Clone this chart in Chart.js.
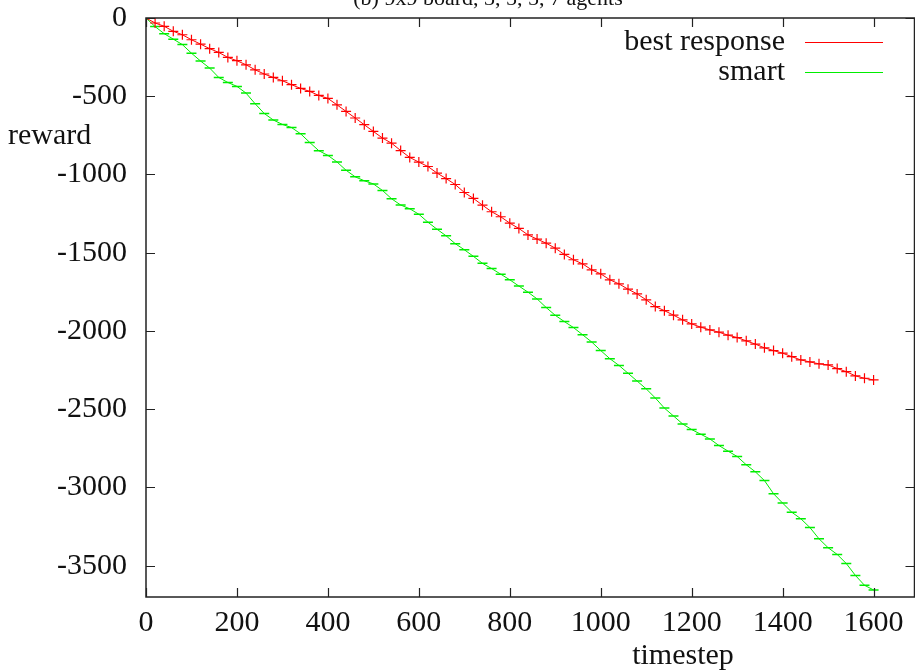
<!DOCTYPE html>
<html>
<head>
<meta charset="utf-8">
<script src="https://cdn.jsdelivr.net/npm/chart.js@4/dist/chart.umd.min.js"></script>
<style>
  html, body { margin: 0; background: #fff; overflow: hidden; }
  #wrap { width: 915px; height: 671px; overflow: hidden; }
</style>
</head>
<body>
<div id="wrap"><canvas id="reward-chart" width="921" height="671"></canvas></div>
<script>
const titleText = '(b) 9x9 board, 3, 5, 5, 7 agents';
const xTicks = [0, 200, 400, 600, 800, 1000, 1200, 1400, 1600];
const yTicks = [0, -500, -1000, -1500, -2000, -2500, -3000, -3500];

const timesteps = [];
for (let t = 0; t <= 1600; t += 20) timesteps.push(t);

const bestResponse = [
    0, -32, -53, -85, -107, -139, -167, -196, -220, -252,
    -273, -299, -331, -358, -380, -401, -426, -450, -469, -495,
    -514, -555, -597, -639, -682, -725, -767, -800, -847, -891,
    -921, -949, -991, -1026, -1064, -1115, -1153, -1196, -1238, -1270,
    -1311, -1345, -1386, -1413, -1439, -1471, -1511, -1545, -1571, -1609,
    -1635, -1673, -1699, -1733, -1763, -1801, -1844, -1870, -1899, -1929,
    -1955, -1976, -1993, -2008, -2027, -2042, -2063, -2084, -2108, -2125,
    -2142, -2164, -2185, -2198, -2210, -2217, -2240, -2260, -2287, -2302,
    -2313
];

const smart = [
    0, -55, -100, -135, -170, -225, -275, -320, -380, -412,
    -437, -480, -548, -610, -652, -680, -700, -740, -795, -848,
    -878, -920, -973, -1015, -1040, -1060, -1102, -1155, -1195, -1219,
    -1254, -1305, -1350, -1392, -1442, -1481, -1523, -1568, -1601, -1637,
    -1673, -1713, -1752, -1795, -1850, -1900, -1940, -1978, -2024, -2070,
    -2125, -2177, -2220, -2270, -2320, -2370, -2428, -2493, -2543, -2594,
    -2630, -2660, -2690, -2732, -2768, -2802, -2855, -2900, -2956, -3040,
    -3100, -3158, -3200, -3256, -3328, -3385, -3428, -3486, -3562, -3625,
    -3655
];

const serif = '"Liberation Serif", "DejaVu Serif", serif';

// gnuplot-like frame: inward ticks on all sides, labels, key
const gnuplotFrame = {
    id: 'gnuplotFrame',
    afterDraw(chart) {
        const ctx = chart.ctx;
        const a = chart.chartArea;
        const xs = chart.scales.x;
        const ys = chart.scales.y;
        const tl = 9;
        ctx.save();
        ctx.strokeStyle = '#222';
        ctx.lineWidth = 1.5;
        ctx.strokeRect(a.left, a.top, a.right - a.left, a.bottom - a.top);
        ctx.lineWidth = 1.2;
        ctx.beginPath();
        xTicks.forEach(v => {
            const px = Math.round(xs.getPixelForValue(v)) + 0.5;
            ctx.moveTo(px, a.bottom); ctx.lineTo(px, a.bottom - tl);
            ctx.moveTo(px, a.top); ctx.lineTo(px, a.top + tl);
        });
        yTicks.forEach(v => {
            const py = Math.round(ys.getPixelForValue(v)) + 0.5;
            ctx.moveTo(a.left, py); ctx.lineTo(a.left + tl, py);
            ctx.moveTo(a.right, py); ctx.lineTo(a.right - tl, py);
        });
        ctx.stroke();

        ctx.fillStyle = '#111';
        ctx.font = '30px ' + serif;
        ctx.textBaseline = 'middle';
        ctx.textAlign = 'left';
        ctx.fillText('reward', 8, 136);
        ctx.textAlign = 'center';
        ctx.fillText('timestep', 683, 656);

        // key
        chart.data.datasets.forEach((ds, i) => {
            const y = 42 + i * 30;
            ctx.textAlign = 'right';
            ctx.fillStyle = '#111';
            ctx.fillText(ds.label, 785, y);
            ctx.strokeStyle = ds.borderColor;
            ctx.lineWidth = 1;
            ctx.beginPath();
            ctx.moveTo(805, y + 0.5);
            ctx.lineTo(883, y + 0.5);
            ctx.stroke();
        });

        // title, cut at the top like the original
        ctx.fillStyle = '#111';
        ctx.font = '22px ' + serif;
        ctx.textAlign = 'center';
        ctx.textBaseline = 'alphabetic';
        ctx.fillText(titleText, 488, 5);
        ctx.restore();
    }
};

const ctx = document.getElementById('reward-chart').getContext('2d');
new Chart(ctx, {
    type: 'line',
    data: {
        datasets: [
            {
                label: 'best response',
                data: timesteps.map((t, i) => ({ x: t, y: bestResponse[i] })),
                borderColor: '#ff0000',
                backgroundColor: '#ff0000',
                borderWidth: 1,
                pointStyle: 'cross',
                pointRadius: 5,
                pointBorderWidth: 1.2,
                tension: 0
            },
            {
                label: 'smart',
                data: timesteps.map((t, i) => ({ x: t, y: smart[i] })),
                borderColor: '#00ee00',
                backgroundColor: '#00ee00',
                borderWidth: 1,
                pointStyle: 'line',
                pointRadius: 5,
                pointBorderWidth: 1.5,
                tension: 0
            }
        ]
    },
    options: {
        responsive: false,
        animation: false,
        layout: { padding: { top: 18, right: 1, left: 0, bottom: 0 } },
        plugins: {
            legend: { display: false },
            tooltip: { enabled: false }
        },
        scales: {
            x: {
                type: 'linear',
                min: 0,
                max: 1690,
                grid: { display: false, drawTicks: false },
                border: { display: false },
                afterBuildTicks: (s) => { s.ticks = xTicks.map(v => ({ value: v })); },
                afterFit: (s) => {
                    s.height = 74;
                    s.paddingLeft = 0;
                    s.paddingRight = 0;
                },
                ticks: {
                    color: '#111',
                    font: { family: serif, size: 30 },
                    padding: 8,
                    maxRotation: 0,
                    callback: (v) => String(v)
                }
            },
            y: {
                min: -3700,
                max: 0,
                grid: { display: false, drawTicks: false },
                border: { display: false },
                afterBuildTicks: (s) => { s.ticks = yTicks.map(v => ({ value: v })); },
                afterFit: (s) => {
                    s.width = 146;
                    s.paddingTop = 0;
                    s.paddingBottom = 0;
                },
                ticks: {
                    color: '#111',
                    font: { family: serif, size: 30 },
                    padding: 19,
                    callback: (v) => String(v)
                }
            }
        }
    },
    plugins: [gnuplotFrame]
});
</script>
</body>
</html>
